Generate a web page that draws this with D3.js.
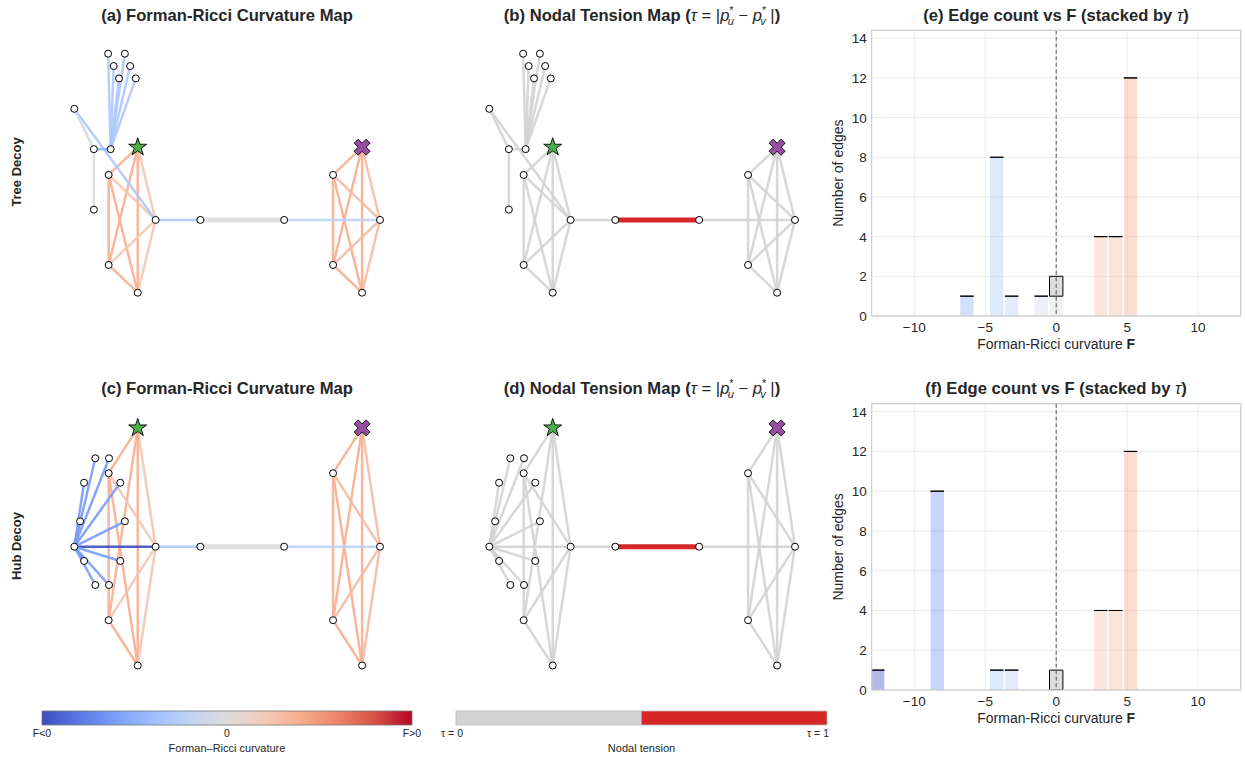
<!DOCTYPE html>
<html>
<head>
<meta charset="utf-8">
<script src="https://cdn.jsdelivr.net/npm/d3@7"></script>
<style>
  body { margin: 0; background: #fff; }
  svg text { font-family: "Liberation Sans", Arial, Helvetica, sans-serif; }
</style>
</head>
<body>
<svg id="fig" width="1245" height="759"></svg>
<script>
// ---------------- data ----------------
// node layout coordinates: [id, x, y]
const cliqueLeftNodes  = [["S", -3.74, 0.884], ["L1", -4.78, 0.547], ["L2", -3.10, 0], ["L3", -4.78, -0.547], ["L4", -3.74, -0.884]];
const cliqueRightNodes = [["T", 4.29, 0.884], ["R1", 3.25, 0.547], ["R2", 4.93, 0], ["R3", 3.25, -0.547], ["R4", 4.29, -0.884]];
const bridgeNodes      = [["B1", -1.5, 0], ["B2", 1.5, 0]];
const treeDecoyNodes   = [["A", -6.01, 1.35], ["Bt", -5.31, 0.86], ["Dt", -5.31, 0.125], ["Ht", -4.71, 0.86],
                          ["t1", -4.80, 2.02], ["t2", -4.20, 2.02], ["t3", -4.60, 1.87], ["t4", -4.01, 1.87],
                          ["t5", -4.41, 1.72], ["t6", -3.81, 1.72]];
const hubDecoyNodes    = [["Hb", -6.01, 0], ["h1", -5.257, 0.658], ["h2", -4.768, 0.658], ["h3", -5.660, 0.476],
                          ["h4", -4.365, 0.476], ["h5", -5.802, 0.189], ["h6", -4.198, 0.189], ["h7", -5.660, -0.106],
                          ["h8", -4.365, -0.106], ["h9", -5.257, -0.285], ["h10", -4.768, -0.285]];

// edges: [source, target, Forman-Ricci curvature F, nodal tension tau]
const cliqueEdges = [
  ["S","L1",5,0],["S","L2",3,0],["S","L3",5,0],["S","L4",5,0],["L1","L2",3,0],
  ["L1","L3",5,0],["L1","L4",5,0],["L2","L3",3,0],["L2","L4",3,0],["L3","L4",5,0],
  ["T","R1",5,0],["T","R2",4,0],["T","R3",5,0],["T","R4",5,0],["R1","R2",4,0],
  ["R1","R3",5,0],["R1","R4",5,0],["R2","R3",4,0],["R2","R4",4,0],["R3","R4",5,0]
];
const bridgeEdges = [["L2","B1",-4,0],["B1","B2",0,1],["B2","R2",-3,0]];
const treeDecoyEdges = [
  ["A","L2",-4,0],["A","Bt",-1,0],["Bt","Dt",0,0],["Bt","Ht",-6,0],
  ["Ht","t1",-4,0],["Ht","t2",-4,0],["Ht","t3",-4,0],["Ht","t4",-4,0],["Ht","t5",-4,0],["Ht","t6",-4,0]
];
const hubDecoyEdges = [
  ["Hb","L2",-13,0],
  ["Hb","h1",-8,0],["Hb","h2",-8,0],["Hb","h3",-8,0],["Hb","h4",-8,0],["Hb","h5",-8,0],
  ["Hb","h6",-8,0],["Hb","h7",-8,0],["Hb","h8",-8,0],["Hb","h9",-8,0],["Hb","h10",-8,0]
];

// histogram bins (centre of bin in F) and edge counts split by tension
const histTreeBins = [-6.29, -4.19, -3.14, -1.05, 0, 3.14, 4.19, 5.24];
const histTreeLow  = [1, 8, 1, 1, 1, 4, 4, 12];
const histTreeHigh = [0, 0, 0, 0, 1, 0, 0, 0];
const histHubBins  = [-12.58, -8.38, -4.19, -3.14, 0, 3.14, 4.19, 5.24];
const histHubLow   = [1, 10, 1, 1, 0, 4, 4, 12];
const histHubHigh  = [0, 0, 0, 0, 1, 0, 0, 0];
const binWidth = 1.048;

const histXTicks = [-10, -5, 0, 5, 10];
const histYTicks = [0, 2, 4, 6, 8, 10, 12, 14];
const rowLabels = ["Tree Decoy", "Hub Decoy"];
const curvTickLabels = ["F<0", "0", "F>0"];
const tensionTickLabels = ["τ = 0", "τ = 1"];

// ---------------- colours ----------------
const coolwarmStops = ["#3b4cc0","#5977e3","#7b9ff9","#9ebeff","#c0d4f5","#dddcdc",
                       "#f2cbb7","#f7ac8e","#ee8468","#d65244","#b40426"];
const coolwarm = d3.piecewise(d3.interpolateRgb, coolwarmStops);
const fNorm = d3.scaleLinear().domain([-13, 13]).range([0, 1]).clamp(true);
const fColor = f => coolwarm(fNorm(f));
const tensionColor = t => t > 0.5 ? "#d62728" : "#d3d3d3";

const svg = d3.select("#fig");
const TXT = "#262626";

// ---------------- helpers ----------------
function starPath(cx, cy, R) {
  const r = R * 0.382, pts = [];
  for (let i = 0; i < 10; i++) {
    const a = -Math.PI / 2 + i * Math.PI / 5, rr = i % 2 ? r : R;
    pts.push([cx + rr * Math.cos(a), cy + rr * Math.sin(a)]);
  }
  return "M" + pts.map(p => p.join(",")).join("L") + "Z";
}
function xMarkerPath(cx, cy, S) {
  const base = [[-1,-3],[1,-3],[1,-1],[3,-1],[3,1],[1,1],[1,3],[-1,3],[-1,1],[-3,1],[-3,-1],[-1,-1]];
  const c = Math.SQRT1_2;
  const pts = base.map(([u, v]) => {
    const x = u / 6 * S, y = v / 6 * S;
    return [cx + (x * c - y * c), cy + (x * c + y * c)];
  });
  return "M" + pts.map(p => p.join(",")).join("L") + "Z";
}
function richText(sel, pieces) {
  pieces.forEach(p => {
    const t = sel.append("tspan").text(p.t);
    if (p.w) t.attr("font-weight", p.w);
    if (p.s) t.attr("font-style", p.s);
    if (p.fs) t.attr("font-size", p.fs);
    if (p.dx) t.attr("dx", p.dx);
    if (p.dy) t.attr("dy", p.dy);
  });
}

// ---------------- graph panels ----------------
function drawGraph(nodes, edges, xRange, yRange, mode) {
  const g = svg.append("g");
  const x = d3.scaleLinear().domain(d3.extent(nodes, d => d[1])).range(xRange);
  const y = d3.scaleLinear().domain(d3.extent(nodes, d => d[2])).range(yRange);
  const pos = new Map(nodes.map(d => [d[0], [x(d[1]), y(d[2])]]));
  g.selectAll("line").data(edges).join("line")
    .attr("x1", d => pos.get(d[0])[0]).attr("y1", d => pos.get(d[0])[1])
    .attr("x2", d => pos.get(d[1])[0]).attr("y2", d => pos.get(d[1])[1])
    .attr("stroke", d => mode === "curv" ? fColor(d[2]) : tensionColor(d[3]))
    .attr("stroke-opacity", d => mode === "curv" ? 0.9 : (d[3] > 0.5 ? 1 : 0.9))
    .attr("stroke-width", d => d[3] > 0.5 ? 5 : 2.5);
  const plain = nodes.filter(d => d[0] !== "S" && d[0] !== "T");
  g.selectAll("circle").data(plain).join("circle")
    .attr("cx", d => x(d[1])).attr("cy", d => y(d[2])).attr("r", 3.5)
    .attr("fill", "#fff").attr("stroke", "#000").attr("stroke-width", 1);
  const s = pos.get("S"), t = pos.get("T");
  g.append("path").attr("d", starPath(s[0], s[1], 9.5))
    .attr("fill", "#4daf4a").attr("stroke", "#000").attr("stroke-width", 0.9);
  g.append("path").attr("d", xMarkerPath(t[0], t[1], 17))
    .attr("fill", "#984ea3").attr("stroke", "#000").attr("stroke-width", 0.9);
}

// ---------------- histogram panels ----------------
function drawHist(bins, low, high, yRange, id) {
  const g = svg.append("g");
  const x = d3.scaleLinear().domain([-13, 13]).range([871.7, 1240.7]);
  const y = d3.scaleLinear().domain([0, 14.4]).range(yRange);
  const [x0, x1] = x.range(), [yb, yt] = y.range();
  g.append("clipPath").attr("id", id).append("rect")
    .attr("x", x0).attr("y", yt).attr("width", x1 - x0).attr("height", yb - yt);
  // grid
  g.selectAll(".gx").data(histXTicks).join("line")
    .attr("x1", d => x(d)).attr("x2", d => x(d)).attr("y1", yt).attr("y2", yb)
    .attr("stroke", "#ebebeb").attr("stroke-width", 1);
  g.selectAll(".gy").data(histYTicks).join("line").attr("class", "gy")
    .attr("x1", x0).attr("x2", x1).attr("y1", d => y(d)).attr("y2", d => y(d))
    .attr("stroke", "#ebebeb").attr("stroke-width", 1);
  const bars = g.append("g").attr("clip-path", `url(#${id})`);
  const data = bins.map((c, i) => ({ c, lo: low[i], hi: high[i] }));
  const bw = binWidth * 0.9;
  bars.selectAll(".lo").data(data.filter(d => d.lo > 0)).join("rect")
    .attr("x", d => x(d.c - bw / 2)).attr("width", d => x(d.c + bw / 2) - x(d.c - bw / 2))
    .attr("y", d => y(d.lo)).attr("height", d => y(0) - y(d.lo))
    .attr("fill", d => fColor(d.c)).attr("fill-opacity", 0.4);
  bars.selectAll(".hi").data(data).join("path")
    .attr("d", d => {
      const a = x(d.c - bw / 2), b = x(d.c + bw / 2), y1 = y(d.lo), y2 = y(d.lo + d.hi);
      return `M${a},${y1}H${b}V${y2}H${a}Z`;
    })
    .attr("fill", d => fColor(d.c)).attr("fill-opacity", d => d.hi > 0 ? 0.95 : 0)
    .attr("stroke", "#000").attr("stroke-width", 1);
  // zero line
  g.append("line").attr("x1", x(0)).attr("x2", x(0)).attr("y1", yt).attr("y2", yb)
    .attr("stroke", "#555").attr("stroke-width", 1).attr("stroke-dasharray", "4,2.5");
  // frame
  g.append("rect").attr("x", x0).attr("y", yt).attr("width", x1 - x0).attr("height", yb - yt)
    .attr("fill", "none").attr("stroke", "#cccccc").attr("stroke-width", 1.2);
  // tick labels
  g.selectAll(".tx").data(histXTicks).join("text")
    .attr("x", d => x(d)).attr("y", yb + 16).attr("text-anchor", "middle")
    .attr("font-size", 13.5).attr("fill", TXT).text(d => d3.format("d")(d));
  g.selectAll(".ty").data(histYTicks).join("text")
    .attr("x", x0 - 5).attr("y", d => y(d) + 5).attr("text-anchor", "end")
    .attr("font-size", 13.5).attr("fill", TXT).text(d => d);
  // axis labels
  const xl = g.append("text").attr("x", (x0 + x1) / 2).attr("y", yb + 33)
    .attr("text-anchor", "middle").attr("font-size", 14).attr("fill", TXT);
  richText(xl, [{ t: "Forman-Ricci curvature " }, { t: "F", w: "bold" }]);
  g.append("text").attr("transform", `translate(843,${(yt + yb) / 2}) rotate(-90)`)
    .attr("text-anchor", "middle").attr("font-size", 14).attr("fill", TXT).text("Number of edges");
}

// ---------------- titles ----------------
function title(cx, yb, pieces) {
  const t = svg.append("text").attr("x", cx).attr("y", yb).attr("text-anchor", "middle")
    .attr("font-size", 16.6).attr("fill", TXT);
  richText(t, pieces);
}
const tensionTitle = L => [
  { t: `(${L}) Nodal Tension Map (`, w: "bold" },
  { t: "τ", s: "italic" }, { t: " = |" }, { t: "p", s: "italic" },
  { t: "*", fs: 11, dy: -7 }, { t: "u", s: "italic", fs: 11, dx: -6, dy: 11 },
  { t: " − ", dy: -4 }, { t: "p", s: "italic" },
  { t: "*", fs: 11, dy: -7 }, { t: "v", s: "italic", fs: 11, dx: -6, dy: 11 },
  { t: " |", dy: -4 }, { t: ")", w: "bold" }
];
const histTitle = L => [
  { t: `(${L}) Edge count vs `, w: "bold" }, { t: "F", w: "bold" },
  { t: " (stacked by ", w: "bold" }, { t: "τ", s: "italic" }, { t: ")", w: "bold" }
];

// ---------------- assemble ----------------
const treeNodes = [...cliqueLeftNodes, ...cliqueRightNodes, ...bridgeNodes, ...treeDecoyNodes];
const treeEdges = [...cliqueEdges, ...bridgeEdges, ...treeDecoyEdges];
const hubNodes  = [...cliqueLeftNodes, ...cliqueRightNodes, ...bridgeNodes, ...hubDecoyNodes];
const hubEdges  = [...cliqueEdges, ...bridgeEdges, ...hubDecoyEdges];

const rows = [
  { nodes: treeNodes, edges: treeEdges, yRange: [292.7, 53.7], titleY: 21, letters: ["a", "b", "e"],
    bins: histTreeBins, low: histTreeLow, high: histTreeHigh, histY: [316, 30.3], labelY: 172 },
  { nodes: hubNodes, edges: hubEdges, yRange: [665.5, 427.9], titleY: 394, letters: ["c", "d", "f"],
    bins: histHubBins, low: histHubLow, high: histHubHigh, histY: [690, 403.7], labelY: 546 }
];

rows.forEach((r, i) => {
  drawGraph(r.nodes, r.edges, [74.3, 380], r.yRange, "curv");
  drawGraph(r.nodes, r.edges, [489.3, 795], r.yRange, "tension");
  drawHist(r.bins, r.low, r.high, r.histY, "clip" + i);
  title(227, r.titleY, [{ t: `(${r.letters[0]}) Forman-Ricci Curvature Map`, w: "bold" }]);
  title(642, r.titleY, tensionTitle(r.letters[1]));
  title(1056, r.titleY, histTitle(r.letters[2]));
  svg.append("text").attr("transform", `translate(21,${r.labelY}) rotate(-90)`)
    .attr("text-anchor", "middle").attr("font-size", 13).attr("font-weight", "bold")
    .attr("fill", TXT).text(rowLabels[i]);
});

// ---------------- colour bars ----------------
const defs = svg.append("defs");
const grad = defs.append("linearGradient").attr("id", "cwGrad");
d3.range(0, 1.0001, 0.05).forEach(t => grad.append("stop")
  .attr("offset", t).attr("stop-color", coolwarm(t)));

const cbCurv = d3.scaleLinear().domain([0, 1]).range([42, 412]);
svg.append("rect").attr("x", cbCurv(0)).attr("y", 711).attr("width", cbCurv(1) - cbCurv(0)).attr("height", 14)
  .attr("fill", "url(#cwGrad)").attr("stroke", "#777").attr("stroke-width", 0.8);
svg.selectAll(".cbl").data(curvTickLabels).join("text")
  .attr("x", (d, i) => cbCurv(i / 2)).attr("y", 737).attr("text-anchor", "middle")
  .attr("font-size", 10.5).attr("fill", TXT).text(d => d);
svg.append("text").attr("x", cbCurv(0.5)).attr("y", 752).attr("text-anchor", "middle")
  .attr("font-size", 11).attr("fill", TXT).text("Forman–Ricci curvature");

const cbTen = d3.scaleLinear().domain([0, 1]).range([456, 827]);
[0, 1].forEach(t => svg.append("rect")
  .attr("x", cbTen(t * 0.5)).attr("y", 711).attr("width", cbTen(0.5) - cbTen(0)).attr("height", 14)
  .attr("fill", tensionColor(t)));
svg.append("rect").attr("x", cbTen(0)).attr("y", 711).attr("width", cbTen(1) - cbTen(0)).attr("height", 14)
  .attr("fill", "none").attr("stroke", "#bbb").attr("stroke-width", 0.8);
svg.selectAll(".cbt").data(tensionTickLabels).join("text")
  .attr("x", (d, i) => cbTen(i) + (i ? -9 : -4)).attr("y", 737).attr("text-anchor", "middle")
  .attr("font-size", 10.5).attr("fill", TXT).text(d => d);
svg.append("text").attr("x", cbTen(0.5)).attr("y", 752).attr("text-anchor", "middle")
  .attr("font-size", 11).attr("fill", TXT).text("Nodal tension");
</script>
</body>
</html>
